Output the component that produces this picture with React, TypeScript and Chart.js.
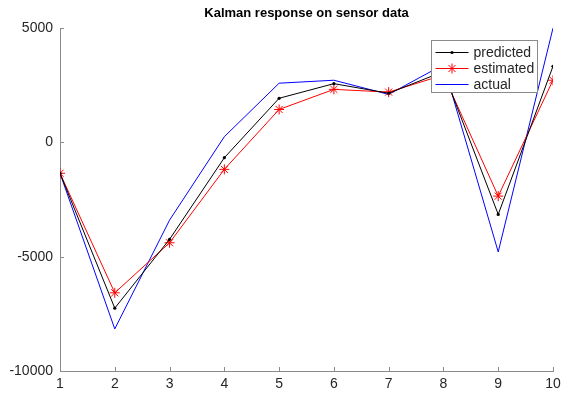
import React, { useEffect, useRef } from "react";
import { Chart, registerables } from "chart.js";

Chart.register(...registerables);

const xValues = [1, 2, 3, 4, 5, 6, 7, 8, 9, 10];
const predicted = [-1350, -7250, -4240, -670, 1930, 2570, 2150, 3100, -3150, 3330];
const estimated = [-1350, -6580, -4390, -1180, 1440, 2320, 2200, 2950, -2350, 2720];
const actual = [-1350, -8160, -3400, 250, 2590, 2720, 2100, 3400, -4790, 5000];
const yTicks = [-10000, -5000, 0, 5000];
const xTicks = [1, 2, 3, 4, 5, 6, 7, 8, 9, 10];
const seriesNames = ["predicted", "estimated", "actual"];
const titleText = "Kalman response on sensor data";

const FONT = "'Liberation Sans', Arial, Helvetica, sans-serif";
const AXIS_COLOR = "#8a8a8a";
const TEXT_COLOR = "#262626";

function drawStar(ctx: CanvasRenderingContext2D, x: number, y: number, r: number, color: string) {
  ctx.save();
  ctx.strokeStyle = color;
  ctx.lineWidth = 1;
  ctx.beginPath();
  ctx.moveTo(x - r, y);
  ctx.lineTo(x + r, y);
  ctx.moveTo(x, y - r);
  ctx.lineTo(x, y + r);
  const d = r * 0.7071;
  ctx.moveTo(x - d, y - d);
  ctx.lineTo(x + d, y + d);
  ctx.moveTo(x - d, y + d);
  ctx.lineTo(x + d, y - d);
  ctx.stroke();
  ctx.restore();
}

const inwardTicks = {
  id: "inwardTicks",
  afterDatasetsDraw(chart: any) {
    const { ctx, chartArea, scales } = chart;
    const len = 4;
    ctx.save();
    ctx.strokeStyle = AXIS_COLOR;
    ctx.lineWidth = 1;
    ctx.beginPath();
    for (const v of xTicks) {
      const px = Math.round(scales.x.getPixelForValue(v)) + 0.5;
      ctx.moveTo(px, chartArea.bottom);
      ctx.lineTo(px, chartArea.bottom - len);
    }
    for (const v of yTicks) {
      const py = Math.round(scales.y.getPixelForValue(v)) + 0.5;
      ctx.moveTo(chartArea.left, py);
      ctx.lineTo(chartArea.left + len, py);
    }
    ctx.stroke();
    ctx.restore();
  },
};

const matlabLegend = {
  id: "matlabLegend",
  afterDatasetsDraw(chart: any) {
    const { ctx, chartArea } = chart;
    const w = 106;
    const h = 52;
    const left = Math.round(chartArea.right - 16 - w) + 0.5;
    const top = Math.round(chartArea.top + 12) + 0.5;
    ctx.save();
    ctx.fillStyle = "#ffffff";
    ctx.fillRect(left, top, w, h);
    ctx.strokeStyle = AXIS_COLOR;
    ctx.lineWidth = 1;
    ctx.strokeRect(left, top, w, h);
    ctx.font = `14px ${FONT}`;
    ctx.textBaseline = "middle";
    ctx.textAlign = "left";
    const colors = ["#000000", "#ff0000", "#0000ff"];
    seriesNames.forEach((name, i) => {
      const y = Math.round(top + 11 + i * 16) + 0.5;
      const x0 = left + 4;
      const x1 = left + 37;
      ctx.strokeStyle = colors[i];
      ctx.lineWidth = 1;
      ctx.beginPath();
      ctx.moveTo(x0, y);
      ctx.lineTo(x1, y);
      ctx.stroke();
      const cx = (x0 + x1) / 2;
      if (i === 0) {
        ctx.fillStyle = "#000000";
        ctx.beginPath();
        ctx.arc(cx, y, 1.6, 0, Math.PI * 2);
        ctx.fill();
      } else if (i === 1) {
        drawStar(ctx, cx, y, 5, "#ff0000");
      }
      ctx.fillStyle = TEXT_COLOR;
      ctx.fillText(name, left + 42, y + 1);
    });
    ctx.restore();
  },
};

export default function App() {
  const ref = useRef<HTMLCanvasElement | null>(null);

  useEffect(() => {
    document.body.style.margin = "0";
    const canvas = ref.current;
    if (!canvas) return;
    const chart = new Chart(canvas, {
      type: "line",
      data: {
        datasets: [
          {
            label: seriesNames[0],
            data: xValues.map((x, i) => ({ x, y: predicted[i] })),
            borderColor: "#000000",
            backgroundColor: "#000000",
            borderWidth: 1,
            pointStyle: "circle",
            pointRadius: 1.6,
            pointBorderWidth: 0,
            pointBackgroundColor: "#000000",
            tension: 0,
          },
          {
            label: seriesNames[1],
            data: xValues.map((x, i) => ({ x, y: estimated[i] })),
            borderColor: "#ff0000",
            backgroundColor: "#ff0000",
            borderWidth: 1,
            pointStyle: "star",
            pointRadius: 5,
            pointBorderWidth: 1,
            pointBorderColor: "#ff0000",
            tension: 0,
          },
          {
            label: seriesNames[2],
            data: xValues.map((x, i) => ({ x, y: actual[i] })),
            borderColor: "#0000ff",
            backgroundColor: "#0000ff",
            borderWidth: 1,
            pointRadius: 0,
            tension: 0,
          },
        ],
      },
      options: {
        responsive: false,
        devicePixelRatio: 1,
        animation: false,
        layout: { padding: { left: 0, right: 0, top: 0, bottom: 0 } },
        plugins: {
          legend: { display: false },
          tooltip: { enabled: false },
          title: {
            display: true,
            text: titleText,
            fullSize: false,
            color: "#000000",
            font: { family: FONT, size: 13, weight: "bold" },
            padding: { top: 6, bottom: 6.5 },
          },
        },
        scales: {
          x: {
            type: "linear",
            min: 1,
            max: 10,
            afterBuildTicks: (scale: any) => {
              scale.ticks = xTicks.map((v) => ({ value: v }));
            },
            afterFit: (scale: any) => {
              scale.height = 22;
              scale.paddingLeft = 0;
              scale.paddingRight = 8;
            },
            grid: { display: false, drawTicks: false },
            border: { display: true, color: AXIS_COLOR, width: 1 },
            ticks: {
              color: TEXT_COLOR,
              font: { family: FONT, size: 14 },
              padding: 5,
              maxRotation: 0,
              autoSkip: false,
            },
          },
          y: {
            type: "linear",
            min: -10000,
            max: 5000,
            afterBuildTicks: (scale: any) => {
              scale.ticks = yTicks.map((v) => ({ value: v }));
            },
            afterFit: (scale: any) => {
              scale.width = 60;
            },
            grid: { display: false, drawTicks: false },
            border: { display: true, color: AXIS_COLOR, width: 1 },
            ticks: {
              color: TEXT_COLOR,
              font: { family: FONT, size: 14 },
              padding: 7,
              autoSkip: false,
              callback: (v: any) => String(v),
            },
          },
        },
      },
      plugins: [inwardTicks, matlabLegend],
    } as any);
    return () => chart.destroy();
  }, []);

  return (
    <div style={{ position: "absolute", left: 0, top: 0, width: 561, height: 393, background: "#ffffff" }}>
      <canvas ref={ref} width={561} height={393} style={{ display: "block" }} />
    </div>
  );
}
